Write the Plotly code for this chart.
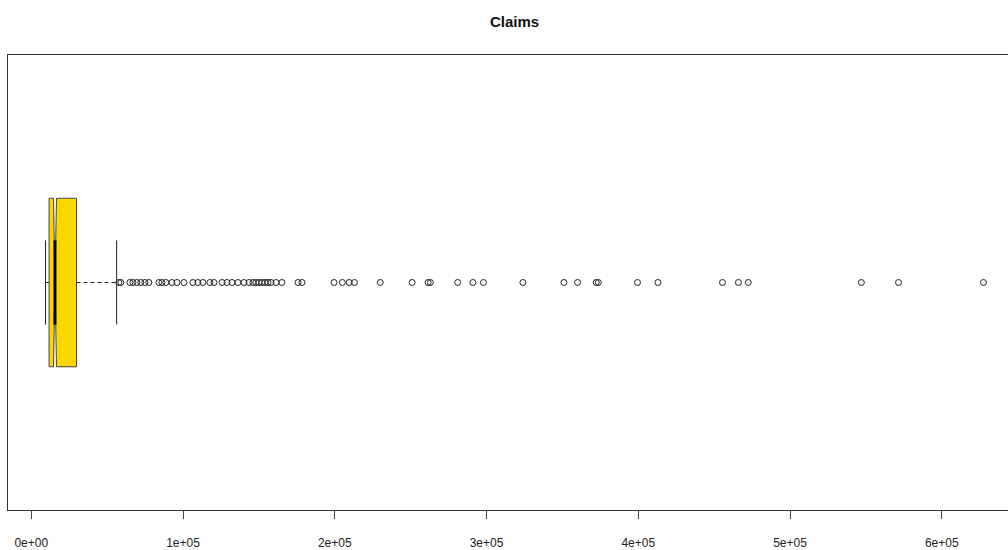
import plotly.graph_objects as go

# Summary statistics of the claim amounts
q1 = 11740
median = 15630
q3 = 29800
lower_whisker = 9400
upper_whisker = 56270
notch_half = 1000

# Observations beyond the upper whisker
outliers = [
    57700, 59000, 65000, 67000, 69600, 72200, 74900, 77500, 84100, 86100,
    88700, 92700, 96000, 100600, 106500, 109800, 113100, 117700, 120400, 125700,
    129000, 132300, 136200, 140200, 143500, 146100, 148100, 150100, 152000, 154000,
    156000, 158000, 161300, 165200, 175800, 178400, 199500, 205000, 209500, 213000,
    230000, 251000, 261500, 263000, 281000, 291000, 298000, 324000, 351000, 360000,
    372300, 373700, 399500, 413000, 455500, 466000, 472500, 547000, 571500, 627500,
]

tick_values = [0, 100000, 200000, 300000, 400000, 500000, 600000]
tick_labels = ["0e+00", "1e+05", "2e+05", "3e+05", "4e+05", "5e+05", "6e+05"]

POS = 1.0          # vertical position of the single box
BOX_W = 0.4        # box height in data units
STAPLE = 0.1       # half-length of whisker staples
INK = "#222222"

fig = go.Figure()

# Notched box (whiskers drawn separately so they can be dashed)
fig.add_trace(go.Box(
    y=[POS], orientation="h",
    q1=[q1], median=[median], q3=[q3],
    lowerfence=[q1], upperfence=[q3],
    notchspan=[notch_half],
    notched=True, notchwidth=0.5,
    width=BOX_W, whiskerwidth=0,
    boxpoints=False,
    fillcolor="#FFD700",
    line=dict(color="#444444", width=1),
    hoverinfo="skip", showlegend=False,
))

# Dashed whiskers
for a, b in [(q1, lower_whisker), (q3, upper_whisker)]:
    fig.add_trace(go.Scatter(
        x=[a, b], y=[POS, POS], mode="lines",
        line=dict(color=INK, width=1, dash="4px,3px"),
        hoverinfo="skip", showlegend=False,
    ))

# Whisker staples
for v in [lower_whisker, upper_whisker]:
    fig.add_trace(go.Scatter(
        x=[v, v], y=[POS - STAPLE, POS + STAPLE], mode="lines",
        line=dict(color=INK, width=1),
        hoverinfo="skip", showlegend=False,
    ))

# Thick median bar spanning the notch
fig.add_trace(go.Scatter(
    x=[median, median], y=[POS - BOX_W / 4, POS + BOX_W / 4], mode="lines",
    line=dict(color="#000000", width=3),
    hoverinfo="skip", showlegend=False,
))

# Outlying points
fig.add_trace(go.Scatter(
    x=outliers, y=[POS] * len(outliers), mode="markers",
    marker=dict(symbol="circle-open", size=6, color=INK, line=dict(width=1)),
    hoverinfo="skip", showlegend=False,
))

fig.update_layout(
    width=1008, height=550,
    margin=dict(l=8, r=0, t=55, b=34),
    paper_bgcolor="white", plot_bgcolor="white",
    font=dict(family="Liberation Sans, Arial, sans-serif", size=12, color=INK),
    title=dict(
        text="<b>Claims</b>", x=0.5065, xref="paper", xanchor="center",
        y=1 - 22 / 550, yref="container", yanchor="middle",
        font=dict(size=15, color="#111111"),
    ),
    xaxis=dict(
        range=[-15324, 643650],
        tickvals=tick_values, ticktext=tick_labels,
        ticks="outside", ticklen=8, tickcolor="#444444",
        showgrid=False, zeroline=False,
        showline=True, mirror=True, linecolor="#333333", linewidth=1,
        ticklabelstandoff=14,
    ),
    yaxis=dict(
        range=[0.46, 1.54],
        showticklabels=False, ticks="",
        showgrid=False, zeroline=False,
        showline=True, mirror=False, linecolor="#333333", linewidth=1,
    ),
)

fig.write_html("out.html")
